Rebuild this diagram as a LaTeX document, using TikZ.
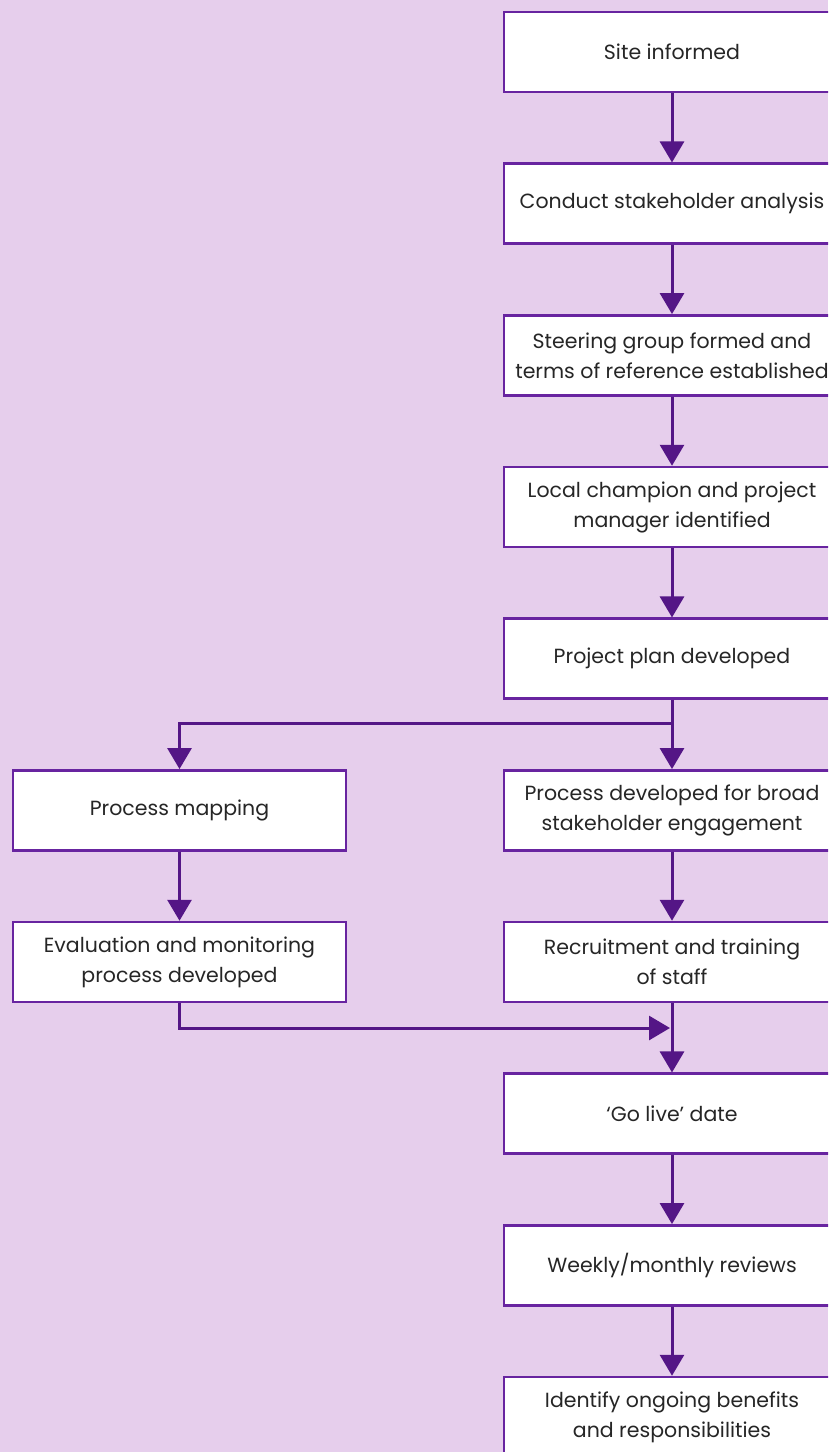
\documentclass[tikz,border=0pt]{standalone}
\usepackage{fontspec}
\setmainfont{Poppins}
\usetikzlibrary{arrows.meta}
\definecolor{bgpurple}{RGB}{230,206,236}
\definecolor{linepurple}{RGB}{84,22,134}
\definecolor{boxpurple}{RGB}{104,36,160}

\begin{document}
\begin{tikzpicture}[x=1pt, y=-1pt,
  box/.style={draw=boxpurple, line width=2.5pt, fill=white, minimum width=336pt,
              minimum height=80pt, inner sep=2pt, text=black!85, align=center,
              font=\fontsize{20.5}{30}\selectfont},
  lnk/.style={draw=linepurple, line width=3pt},
  arr/.style={lnk, -{Triangle[width=24pt,length=21pt]}},
]
\useasboundingbox (0,0) rectangle (828,1452);
\fill[bgpurple] (0,0) rectangle (828,1452);
\clip (0,0) rectangle (828,1452);
% --- Main column (right) ---
\node[box] (site)    at (672,  52.0) {Site informed};
\node[box] (stake)   at (672, 203.7) {Conduct stakeholder analysis};
\node[box] (steer)   at (672, 355.3) {Steering group formed and\\terms of reference established};
\node[box] (champ)   at (672, 507.0) {Local champion and project\\manager identified};
\node[box] (plan)    at (672, 658.7) {Project plan developed};
\node[box] (broad)   at (672, 810.3) {Process developed for broad\\stakeholder engagement};
\node[box] (staff)   at (672, 962.0) {Recruitment and training\\of staff};
\node[box] (golive)  at (672,1113.7) {‘Go live’ date};
\node[box] (review)  at (672,1265.3) {Weekly/monthly reviews};
\node[box] (benefit) at (672,1417.0) {Identify ongoing benefits\\and responsibilities};
% --- Side branch (left) ---
\node[box, minimum width=333pt] (mapping) at (179.5, 810.3) {Process mapping};
\node[box, minimum width=333pt] (evalmon) at (179.5, 962.0) {Evaluation and monitoring\\process developed};
% --- Junctions ---
\coordinate (split) at (672, 723);
\coordinate (merge) at (672,1028);
% --- Connectors ---
\foreach \a/\b in {site/stake, stake/steer, steer/champ, champ/plan, plan/broad,
                   broad/staff, staff/golive, golive/review, review/benefit,
                   mapping/evalmon}
  { \draw[arr] (\a) -- (\b); }
\draw[arr] (split) -| (mapping);
\draw[arr, shorten >=2pt] (evalmon) |- (merge);
\end{tikzpicture}
\end{document}
